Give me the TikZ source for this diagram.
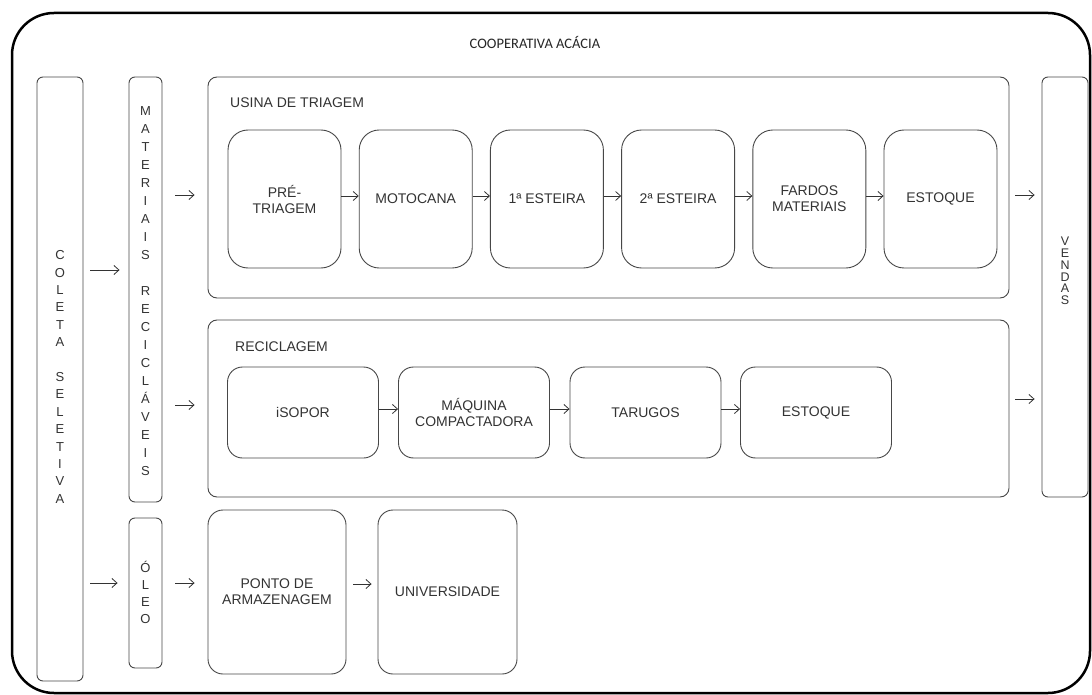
\documentclass[tikz,border=0pt]{standalone}
\usepackage{fontspec}
\setmainfont{Liberation Sans}
\newfontfamily\titlefont{Carlito}
\usetikzlibrary{arrows.meta}
\tikzset{
  base/.style={draw=black!72, line width=0.9pt, text=black!80, align=center, inner sep=0pt},
  vbox/.style={base, rounded corners=6pt},
  vtext/.style={text=black!80, align=center, inner sep=0pt},
  container/.style={draw=black!72, line width=0.9pt, rounded corners=9pt},
  procbig/.style={base, rounded corners=20pt, minimum width=113pt, minimum height=138pt, font=\fontsize{14}{16}\selectfont},
  procsmall/.style={base, rounded corners=15pt, minimum width=151pt, minimum height=91pt, font=\fontsize{14}{16}\selectfont},
  proctall/.style={base, rounded corners=15pt, minimum width=138pt, minimum height=164pt, font=\fontsize{14}{16}\selectfont},
  flow/.style={draw=black!80, line width=0.8pt, -{Straight Barb[length=5pt,width=9pt]}},
  lbl/.style={text=black!80, font=\fontsize{14}{16}\selectfont, anchor=west, inner sep=0pt}
}
\begin{document}
\begin{tikzpicture}[x=1pt,y=-1pt]
\useasboundingbox (0,0) rectangle (1092,695);
\fill[white] (0,0) rectangle (1092,695);
% outer frame
\draw[line width=2.5pt, rounded corners=42pt] (12,13) rectangle (1090,693);
\node[text=black!85, font=\titlefont\fontsize{14.5}{16}\selectfont] (title) at (535,42) {COOPERATIVA ACÁCIA};

% vertical boxes
\node[vbox, minimum width=46pt, minimum height=604pt] (coleta) at (60,379) {};
\node[vtext, font=\fontsize{13}{17.4}\selectfont] (coletatxt) at (60,377) {C\\O\\L\\E\\T\\A\\[17.4pt]S\\E\\L\\E\\T\\I\\V\\A};
\node[vbox, minimum width=33pt, minimum height=425pt] (mat) at (145.5,289.5) {};
\node[vtext, font=\fontsize{13}{18}\selectfont] (mattxt) at (145.5,291) {M\\A\\T\\E\\R\\I\\A\\I\\S\\[18pt]R\\E\\C\\I\\C\\L\\Á\\V\\E\\I\\S};
\node[vbox, minimum width=33pt, minimum height=150pt] (oleo) at (145.5,593) {};
\node[vtext, font=\fontsize{13}{17}\selectfont] (oleotxt) at (145.5,592) {Ó\\L\\E\\O};
\node[vbox, minimum width=46pt, minimum height=420pt] (vendas) at (1065,287) {};
\node[vtext, font=\fontsize{12.5}{11.8}\selectfont] (vendastxt) at (1065,271) {V\\E\\N\\D\\A\\S};

% containers
\node[container, minimum width=801pt, minimum height=221pt, inner sep=0pt] (usina) at (608.5,187.5) {};
\node[lbl] (usinalbl) at (230,103) {USINA DE TRIAGEM};
\node[container, minimum width=801pt, minimum height=177pt, inner sep=0pt] (recic) at (608.5,408.5) {};
\node[lbl] (reciclbl) at (235,347) {RECICLAGEM};

% usina steps
\node[procbig] (pre) at (284.5,199) {PRÉ-\\TRIAGEM};
\node[procbig] (moto) at (415.7,199) {MOTOCANA};
\node[procbig] (est1) at (546.9,199) {1ª ESTEIRA};
\node[procbig] (est2) at (678.1,199) {2ª ESTEIRA};
\node[procbig] (fardos) at (809.3,199) {FARDOS\\MATERIAIS};
\node[procbig] (estq1) at (940.5,199) {ESTOQUE};

% reciclagem steps
\node[procsmall] (isopor) at (303,412.5) {iSOPOR};
\node[procsmall] (maq) at (474,412.5) {MÁQUINA\\COMPACTADORA};
\node[procsmall] (tar) at (645.5,412.5) {TARUGOS};
\node[procsmall] (estq2) at (816,412.5) {ESTOQUE};

% oleo steps
\node[proctall] (ponto) at (277,592) {PONTO DE\\ARMAZENAGEM};
\node[proctall, minimum width=139pt] (univ) at (447.5,592) {UNIVERSIDADE};

% arrows
\draw[flow] (pre.east |- 0,196) -- (moto.west |- 0,196);
\draw[flow] (moto.east |- 0,196) -- (est1.west |- 0,196);
\draw[flow] (est1.east |- 0,196) -- (est2.west |- 0,196);
\draw[flow] (est2.east |- 0,196) -- (fardos.west |- 0,196);
\draw[flow] (fardos.east |- 0,196) -- (estq1.west |- 0,196);
\draw[flow] (isopor.east |- 0,409) -- (maq.west |- 0,409);
\draw[flow] (maq.east |- 0,409) -- (tar.west |- 0,409);
\draw[flow] (tar.east |- 0,409) -- (estq2.west |- 0,409);
\draw[flow, shorten <=7pt, shorten >=6pt] (ponto.east |- 0,584) -- (univ.west |- 0,584);
\draw[flow, shorten <=7pt, shorten >=9pt] (coleta.east |- 0,270) -- (mat.west |- 0,270);
\draw[flow, shorten <=7pt, shorten >=11pt] (coleta.east |- 0,583) -- (oleo.west |- 0,583);
\draw[flow, shorten <=13pt, shorten >=13pt] (mat.east |- 0,195) -- (usina.west |- 0,195);
\draw[flow, shorten <=13pt, shorten >=13pt] (mat.east |- 0,405) -- (recic.west |- 0,405);
\draw[flow, shorten <=13pt, shorten >=13pt] (oleo.east |- 0,583) -- (ponto.west |- 0,583);
\draw[flow, shorten <=6pt, shorten >=7pt] (usina.east |- 0,195) -- (vendas.west |- 0,195);
\draw[flow, shorten <=6pt, shorten >=7pt] (recic.east |- 0,399) -- (vendas.west |- 0,399);
\end{tikzpicture}
\end{document}
